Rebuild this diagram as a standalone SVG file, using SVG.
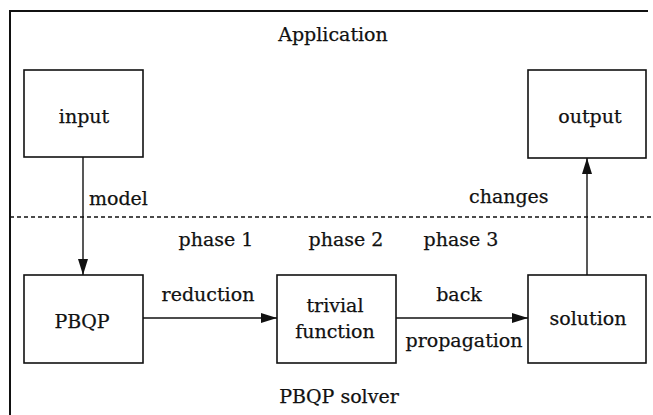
<svg xmlns="http://www.w3.org/2000/svg" width="653" height="415" viewBox="0 0 653 415">
  <style>
    text { font-family: "DejaVu Serif", "Liberation Serif", serif; font-size: 19px; fill: #111; stroke: #111; stroke-width: 0.25; }
    .mid { text-anchor: middle; }
    .box { fill: #fff; stroke: #111; stroke-width: 1.6; }
    .frame { fill: none; stroke: #111; stroke-width: 2; }
    .divider { fill: none; stroke: #111; stroke-width: 1.4; stroke-dasharray: 4 3; }
    .edge { fill: none; stroke: #111; stroke-width: 1.4; }
  </style>
  <defs>
    <marker id="arrow" viewBox="0 0 16 10" refX="16" refY="5" markerWidth="16" markerHeight="10" markerUnits="userSpaceOnUse" orient="auto">
      <path d="M0,0 L16,5 L0,10 Z" fill="#111"/>
    </marker>
  </defs>

  <!-- outer frame (open at right and bottom) and layer divider -->
  <g id="frame">
    <path class="frame" d="M10,415 V11 H648"/>
    <line class="divider" x1="10" y1="217" x2="653" y2="217"/>
    <text class="mid" x="333" y="41">Application</text>
    <text class="mid" x="339" y="403">PBQP solver</text>
    <text class="mid" x="216" y="246">phase 1</text>
    <text class="mid" x="346" y="246">phase 2</text>
    <text class="mid" x="461" y="246">phase 3</text>
  </g>

  <!-- connectors -->
  <g id="connectors">
    <line class="edge" x1="83" y1="157" x2="83" y2="275" marker-end="url(#arrow)"/>
    <line class="edge" x1="143" y1="318" x2="277" y2="318" marker-end="url(#arrow)"/>
    <line class="edge" x1="396" y1="318" x2="528" y2="318" marker-end="url(#arrow)"/>
    <line class="edge" x1="587" y1="275" x2="587" y2="158" marker-end="url(#arrow)"/>
    <text x="89" y="205">model</text>
    <text x="469" y="203">changes</text>
    <text class="mid" x="208" y="301">reduction</text>
    <text class="mid" x="459" y="301">back</text>
    <text class="mid" x="464" y="347">propagation</text>
  </g>

  <g id="input">
    <rect class="box" x="24" y="70" width="119" height="87"/>
    <text class="mid" x="84" y="123">input</text>
  </g>

  <g id="output">
    <rect class="box" x="528" y="70" width="118" height="88"/>
    <text class="mid" x="590" y="123">output</text>
  </g>

  <g id="pbqp">
    <rect class="box" x="24" y="275" width="119" height="88"/>
    <text class="mid" x="82" y="328">PBQP</text>
  </g>

  <g id="trivial-function">
    <rect class="box" x="277" y="275" width="119" height="88"/>
    <text class="mid" x="335" y="312">trivial</text>
    <text class="mid" x="335" y="338">function</text>
  </g>

  <g id="solution">
    <rect class="box" x="528" y="275" width="118" height="88"/>
    <text class="mid" x="588" y="325">solution</text>
  </g>
</svg>
